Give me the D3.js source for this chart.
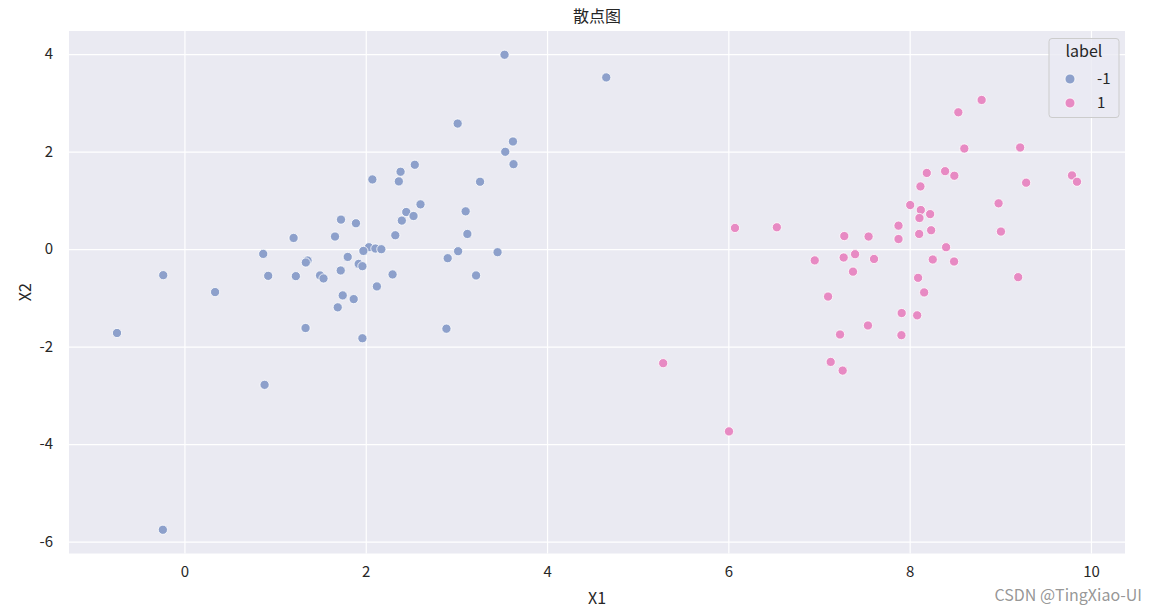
<!DOCTYPE html>
<html>
<head>
<meta charset="utf-8">
<script src="https://cdn.jsdelivr.net/npm/d3@7"></script>
<style>
  html, body { margin: 0; padding: 0; background: #ffffff; }
  svg { display: block; }
  text { font-family: "Noto Sans CJK SC", "Noto Sans", sans-serif; }
</style>
</head>
<body>
<svg id="chart" width="1157" height="612"></svg>
<script>
// ---- data ----
const title = "散点图";
const xLabel = "X1";
const yLabel = "X2";
const legendTitle = "label";
const labels = ["-1", "1"];
const xTicks = [0, 2, 4, 6, 8, 10];
const yTicks = [-6, -4, -2, 0, 2, 4];

const negX = [3.531, 4.653, 3.014, 3.624, 3.539, 3.630, 2.541, 2.384, 2.073, 2.365,
  3.261, 2.604, 2.447, 3.102, 2.398, 2.527, 1.727, 1.892, 1.661, 2.326,
  3.121, 2.035, 2.106, 2.172, 1.974, 3.019, 3.454, 1.801, 2.904, 1.922,
  1.963, 1.724, 2.296, 3.217, 2.123, 1.746, 1.867, 1.691, 1.204, 0.869,
  1.358, 1.339, -0.234, 0.924, 1.229, 1.496, 1.534, 0.338, 1.336, -0.744,
  0.884, -0.238, 2.890, 1.963];
const negY = [3.986, 3.521, 2.575, 2.207, 1.996, 1.742, 1.730, 1.587, 1.429, 1.389,
  1.382, 0.918, 0.761, 0.775, 0.585, 0.679, 0.605, 0.530, 0.258, 0.284,
  0.311, 0.039, 0.012, -0.002, -0.037, -0.043, -0.063, -0.160, -0.186, -0.303,
  -0.350, -0.438, -0.519, -0.540, -0.765, -0.949, -1.025, -1.194, 0.229, -0.098,
  -0.233, -0.274, -0.534, -0.548, -0.554, -0.540, -0.601, -0.881, -1.618, -1.720,
  -2.783, -5.755, -1.632, -1.828];

const posX = [8.794, 8.537, 8.603, 9.219, 8.189, 8.391, 8.493, 8.119, 9.791, 9.846,
  9.285, 8.981, 8.006, 8.123, 8.226, 8.108, 7.877, 8.237, 8.105, 7.877,
  9.007, 7.279, 7.547, 8.402, 6.953, 7.272, 7.398, 7.607, 8.255, 8.490,
  7.375, 8.093, 9.197, 8.160, 7.100, 7.912, 8.083, 7.540, 7.232, 7.909,
  6.073, 6.535, 5.281, 7.129, 7.261, 6.007];
const posY = [3.059, 2.806, 2.063, 2.084, 1.562, 1.599, 1.505, 1.286, 1.511, 1.382,
  1.362, 0.939, 0.904, 0.802, 0.718, 0.638, 0.481, 0.387, 0.311, 0.207,
  0.360, 0.268, 0.258, 0.039, -0.231, -0.172, -0.104, -0.202, -0.213, -0.254,
  -0.462, -0.589, -0.575, -0.888, -0.973, -1.311, -1.358, -1.566, -1.751, -1.765,
  0.434, 0.448, -2.339, -2.313, -2.491, -3.738];

const colors = ["#8DA0CB", "#E78AC3"];

// ---- build ----
const points = [];
negX.forEach((v, i) => points.push({x: v, y: negY[i], label: labels[0]}));
posX.forEach((v, i) => points.push({x: v, y: posY[i], label: labels[1]}));

const svg = d3.select("#chart");
const mLeft = 69, mRight = 1125, mTop = 31, mBottom = 553.5;

const xExt = d3.extent(points, d => d.x);
const yExt = d3.extent(points, d => d.y);
const xPad = (xExt[1] - xExt[0]) * 0.05;
const yPad = (yExt[1] - yExt[0]) * 0.05;

const x = d3.scaleLinear().domain([xExt[0] - xPad, xExt[1] + xPad]).range([mLeft, mRight]);
const y = d3.scaleLinear().domain([yExt[0] - yPad, yExt[1] + yPad]).range([mBottom, mTop]);
const color = d3.scaleOrdinal().domain(labels).range(colors);

// background
svg.append("rect").attr("x", mLeft).attr("y", mTop)
  .attr("width", mRight - mLeft).attr("height", mBottom - mTop)
  .attr("fill", "#EAEAF2");

// axes with gridlines
const xAxis = svg.append("g").attr("transform", `translate(0,${mBottom})`)
  .call(d3.axisBottom(x).tickValues(xTicks).tickSize(-(mBottom - mTop)).tickPadding(13).tickFormat(d3.format("d")));
const yAxis = svg.append("g").attr("transform", `translate(${mLeft},0)`)
  .call(d3.axisLeft(y).tickValues(yTicks).tickSize(-(mRight - mLeft)).tickPadding(16).tickFormat(d => d < 0 ? "-" + Math.abs(d) : d));

[xAxis, yAxis].forEach(g => {
  g.select(".domain").remove();
  g.selectAll(".tick line").attr("stroke", "#ffffff").attr("stroke-width", 1.2);
  g.selectAll(".tick text").attr("fill", "#262626").style("font-size", "15px");
});
xAxis.selectAll(".tick text").attr("dy", "0.71em");

// points
svg.append("g").selectAll("circle").data(points).join("circle")
  .attr("cx", d => x(d.x)).attr("cy", d => y(d.y)).attr("r", 4.6)
  .attr("fill", d => color(d.label))
  .attr("stroke", "#ffffff").attr("stroke-width", 0.8);

// title and labels
svg.append("text").attr("x", (mLeft + mRight) / 2).attr("y", 22)
  .attr("text-anchor", "middle").attr("fill", "#262626").style("font-size", "16px").text(title);
svg.append("text").attr("x", (mLeft + mRight) / 2).attr("y", 604)
  .attr("text-anchor", "middle").attr("fill", "#262626").style("font-size", "16px").text(xLabel);
svg.append("text").attr("transform", `translate(31,${(mTop + mBottom) / 2}) rotate(-90)`)
  .attr("text-anchor", "middle").attr("fill", "#262626").style("font-size", "16px").text(yLabel);

// legend
const lg = svg.append("g");
lg.append("rect").attr("x", 1049).attr("y", 38.5).attr("width", 70).attr("height", 79)
  .attr("rx", 3).attr("fill", "#EAEAF2").attr("fill-opacity", 0.8)
  .attr("stroke", "#CCCCCC").attr("stroke-width", 1);
lg.append("text").attr("x", 1084).attr("y", 57).attr("text-anchor", "middle")
  .attr("fill", "#262626").style("font-size", "16px").text(legendTitle);
labels.forEach((l, i) => {
  const cy = 79 + i * 24;
  lg.append("circle").attr("cx", 1070).attr("cy", cy).attr("r", 5)
    .attr("fill", color(l)).attr("stroke", "#ffffff").attr("stroke-width", 0.8);
  lg.append("text").attr("x", 1097).attr("y", cy + 5).attr("text-anchor", "start")
    .attr("fill", "#262626").style("font-size", "15px").text(l);
});

// watermark
svg.append("text").attr("x", 1142).attr("y", 601).attr("text-anchor", "end")
  .attr("fill", "#8a8a8a").attr("fill-opacity", 0.9).style("font-size", "16px").text("CSDN @TingXiao-UI");
</script>
</body>
</html>
